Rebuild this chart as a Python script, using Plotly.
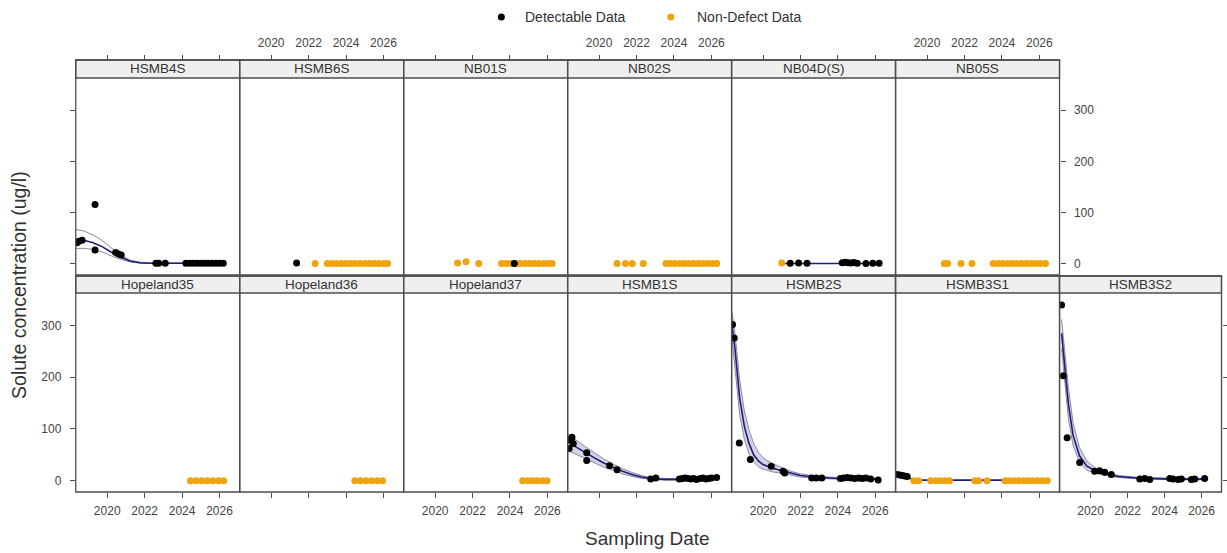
import plotly.graph_objects as go

W, H = 1227, 553

YEAR_TICKS = [2020, 2022, 2024, 2026]
CONC_TICKS = [0, 100, 200, 300]
X_RANGE = [2018.32, 2027.08]
Y_RANGE = [-22, 363]

# ---- Top row wells -------------------------------------------------------
hsmb4s_det_x = [2018.38, 2018.5, 2018.66, 2019.35, 2019.35, 2020.45, 2020.6, 2020.75,
                2022.6, 2022.75, 2023.1, 2024.2, 2024.4, 2024.6, 2024.8, 2025.0, 2025.2,
                2025.4, 2025.6, 2025.8, 2026.0, 2026.2]
hsmb4s_det_v = [41, 44, 46, 116, 27, 22, 19, 17, 1, 1, 1, 1, 1, 1, 1, 1, 1, 1, 1, 1, 1, 1]
hsmb4s_fit_x = [2018.32, 2018.75, 2019.25, 2019.75, 2020.25, 2020.75, 2021.25, 2021.75, 2022.25, 2026.2]
hsmb4s_fit_mid = [48, 46, 41, 33, 22, 12, 5, 2, 1, 1]
hsmb4s_fit_hi = [67, 64, 56, 45, 30, 16, 7, 3, 1.5, 1.5]
hsmb4s_fit_lo = [30, 30, 28, 23, 15, 8, 3.5, 1.2, 0.5, 0.5]

hsmb6s_det_x = [2021.36]
hsmb6s_det_v = [1.5]
hsmb6s_nd_x = [2022.35, 2023.0, 2023.25, 2023.5, 2023.75, 2024.0, 2024.25, 2024.5,
               2024.75, 2025.0, 2025.25, 2025.5, 2025.75, 2026.0, 2026.22]
hsmb6s_nd_v = [0.5] * 15

nb01s_det_x = [2024.23]
nb01s_det_v = [0.5]
nb01s_nd_x = [2021.2, 2021.65, 2022.33, 2023.55, 2023.8, 2024.05, 2024.3, 2024.55, 2024.8,
              2025.05, 2025.3, 2025.55, 2025.8, 2026.05, 2026.25]
nb01s_nd_v = [1.5, 4, 0.5, 0.5, 0.5, 0.5, 0.5, 0.5, 0.5, 0.5, 0.5, 0.5, 0.5, 0.5, 0.5]

nb02s_nd_x = [2020.96, 2021.41, 2021.77, 2022.36, 2023.57, 2023.8, 2024.05, 2024.3, 2024.55,
              2024.8, 2025.05, 2025.3, 2025.55, 2025.8, 2026.05, 2026.28]
nb02s_nd_v = [0.5] * 16

nb04ds_det_x = [2021.45, 2021.9, 2022.35, 2024.23, 2024.4, 2024.55, 2024.7, 2024.85,
                2025.03, 2025.5, 2025.86, 2026.2]
nb04ds_det_v = [1, 1.5, 1, 2, 3, 2, 1.5, 2.5, 1, 0.5, 1, 1]
nb04ds_nd_x = [2021.0]
nb04ds_nd_v = [1.5]
nb04ds_fit_x = [2021.0, 2026.2]
nb04ds_fit_mid = [0.5, 0.5]

nb05s_nd_x = [2020.92, 2021.1, 2021.82, 2022.4, 2023.54, 2023.8, 2024.05, 2024.3, 2024.55,
              2024.8, 2025.05, 2025.3, 2025.55, 2025.8, 2026.05, 2026.33]
nb05s_nd_v = [0.5] * 16

# ---- Bottom row wells ----------------------------------------------------
hopeland35_nd_x = [2024.45, 2024.75, 2025.05, 2025.35, 2025.65, 2025.95, 2026.22]
hopeland35_nd_v = [0] * 7

hopeland36_nd_x = [2024.47, 2024.77, 2025.07, 2025.37, 2025.67, 2025.95]
hopeland36_nd_v = [0] * 6

hopeland37_nd_x = [2024.68, 2024.94, 2025.2, 2025.46, 2025.72, 2025.98]
hopeland37_nd_v = [0] * 6

hsmb1s_det_x = [2018.4, 2018.44, 2018.55, 2018.62, 2019.34, 2019.34, 2020.56, 2020.96,
                2022.76, 2023.03, 2024.29, 2024.45, 2024.6, 2024.75, 2024.9, 2025.05,
                2025.2, 2025.4, 2025.55, 2025.7, 2025.85, 2026.0, 2026.28]
hsmb1s_det_v = [62, 79, 84, 72, 54, 39, 29, 21, 3, 5, 3, 4, 5, 4, 3, 4, 2, 4, 5, 3, 4, 5, 6]
hsmb1s_fit_x = [2018.35, 2018.75, 2019.25, 2019.75, 2020.25, 2020.75, 2021.25, 2021.75,
                2022.25, 2022.75, 2023.5, 2024.5, 2025.5, 2026.3]
hsmb1s_fit_mid = [74, 65, 54, 44, 34, 26, 18, 12, 7, 4, 2.5, 2.5, 3, 3.5]
hsmb1s_fit_hi = [90, 79, 66, 54, 42, 32, 23, 16, 10, 6, 4, 4, 4.5, 5]
hsmb1s_fit_lo = [58, 51, 42, 34, 26, 20, 13, 8, 4.5, 2.5, 1, 1, 1.5, 2]

hsmb2s_det_x = [2018.37, 2018.46, 2018.73, 2019.32, 2020.44, 2021.07, 2021.16, 2022.6,
                2022.85, 2023.14, 2024.13, 2024.3, 2024.5, 2024.7, 2024.9, 2025.1, 2025.3,
                2025.5, 2025.75, 2026.15]
hsmb2s_det_v = [302, 276, 73, 41, 28, 18, 15, 5, 5, 5, 4, 5, 6, 5, 4, 5, 4, 5, 3, 1]
hsmb2s_fit_x = [2018.35, 2018.5, 2018.75, 2019.0, 2019.25, 2019.5, 2019.75, 2020.0, 2020.5,
                2021.0, 2021.5, 2022.0, 2023.0, 2024.0, 2025.0, 2026.2]
hsmb2s_fit_mid = [300, 255, 160, 105, 72, 50, 38, 31, 24, 19, 14, 10, 6, 4, 3.5, 3]
hsmb2s_fit_hi = [325, 285, 195, 135, 98, 72, 55, 44, 33, 25, 18, 13, 8, 6, 5, 5]
hsmb2s_fit_lo = [272, 222, 128, 80, 52, 36, 27, 22, 17, 14, 10, 7, 4, 2.5, 2, 1.5]

hsmb3s1_det_x = [2018.4, 2018.55, 2018.67, 2018.8, 2018.94]
hsmb3s1_det_v = [12, 11, 10, 9, 8]
hsmb3s1_nd_x = [2019.3, 2019.55, 2020.2, 2020.45, 2020.7, 2020.95, 2021.2, 2022.55, 2022.75,
                2023.2, 2024.17, 2024.4, 2024.65, 2024.9, 2025.15, 2025.4, 2025.65, 2025.9,
                2026.15, 2026.42]
hsmb3s1_nd_v = [0] * 20
hsmb3s1_fit_x = [2018.4, 2018.8, 2019.2, 2019.6, 2026.42]
hsmb3s1_fit_mid = [12, 8, 3, 1, 1]

hsmb3s2_det_x = [2018.43, 2018.52, 2018.73, 2019.41, 2020.22, 2020.49, 2020.76, 2021.12,
                 2022.66, 2022.93, 2023.2, 2024.28, 2024.46, 2024.73, 2024.91, 2025.45,
                 2025.63, 2026.17]
hsmb3s2_det_v = [340, 203, 83, 35, 18, 19, 16, 12, 3, 4, 2, 4, 3, 2, 3, 2, 3, 4]
hsmb3s2_fit_x = [2018.43, 2018.6, 2018.8, 2019.05, 2019.4, 2019.8, 2020.3, 2020.8, 2021.5,
                 2022.5, 2023.5, 2024.5, 2025.5, 2026.2]
hsmb3s2_fit_mid = [285, 218, 148, 88, 48, 28, 18, 13, 8, 5, 3.5, 3, 3, 3]
hsmb3s2_fit_hi = [312, 250, 180, 112, 64, 38, 23, 16, 10, 6.5, 5, 4.5, 4.5, 4.5]
hsmb3s2_fit_lo = [255, 188, 120, 68, 36, 20, 14, 10, 6, 3.5, 2, 1.5, 1.5, 1.5]

PANELS = [
    dict(name="HSMB4S", row=0, col=0, det=(hsmb4s_det_x, hsmb4s_det_v),
         fit=(hsmb4s_fit_x, hsmb4s_fit_mid, hsmb4s_fit_lo, hsmb4s_fit_hi), fill=False),
    dict(name="HSMB6S", row=0, col=1, det=(hsmb6s_det_x, hsmb6s_det_v),
         nd=(hsmb6s_nd_x, hsmb6s_nd_v)),
    dict(name="NB01S", row=0, col=2, det=(nb01s_det_x, nb01s_det_v),
         nd=(nb01s_nd_x, nb01s_nd_v)),
    dict(name="NB02S", row=0, col=3, nd=(nb02s_nd_x, nb02s_nd_v)),
    dict(name="NB04D(S)", row=0, col=4, det=(nb04ds_det_x, nb04ds_det_v),
         nd=(nb04ds_nd_x, nb04ds_nd_v), fit=(nb04ds_fit_x, nb04ds_fit_mid, None, None)),
    dict(name="NB05S", row=0, col=5, nd=(nb05s_nd_x, nb05s_nd_v)),
    dict(name="Hopeland35", row=1, col=0, nd=(hopeland35_nd_x, hopeland35_nd_v)),
    dict(name="Hopeland36", row=1, col=1, nd=(hopeland36_nd_x, hopeland36_nd_v)),
    dict(name="Hopeland37", row=1, col=2, nd=(hopeland37_nd_x, hopeland37_nd_v)),
    dict(name="HSMB1S", row=1, col=3, det=(hsmb1s_det_x, hsmb1s_det_v),
         fit=(hsmb1s_fit_x, hsmb1s_fit_mid, hsmb1s_fit_lo, hsmb1s_fit_hi), fill=True),
    dict(name="HSMB2S", row=1, col=4, det=(hsmb2s_det_x, hsmb2s_det_v),
         fit=(hsmb2s_fit_x, hsmb2s_fit_mid, hsmb2s_fit_lo, hsmb2s_fit_hi), fill=True),
    dict(name="HSMB3S1", row=1, col=5, det=(hsmb3s1_det_x, hsmb3s1_det_v),
         nd=(hsmb3s1_nd_x, hsmb3s1_nd_v), fit=(hsmb3s1_fit_x, hsmb3s1_fit_mid, None, None)),
    dict(name="HSMB3S2", row=1, col=6, det=(hsmb3s2_det_x, hsmb3s2_det_v),
         fit=(hsmb3s2_fit_x, hsmb3s2_fit_mid, hsmb3s2_fit_lo, hsmb3s2_fit_hi), fill=True),
]

DETECT_COLOR = "#000000"
NONDETECT_COLOR = "#F0A30A"
FIT_COLOR = "#1E1E78"
BAND_COLOR = "#8A8AA6"
BAND_FILL = "rgba(130,130,180,0.35)"
FRAME = "#4d4d4d"
TEXT = "#333333"
TICK_TEXT = "#444444"
FONT = "Liberation Sans, Arial, sans-serif"

# panel geometry in pixels
COL_LEFT0, COL_W = 76, 164.5
ROWS = {0: dict(strip_top=60, plot_top=78, plot_bot=275),
        1: dict(strip_top=276, plot_top=293, plot_bot=492)}


def fx(px):
    return px / W


def fy(py):
    return 1 - py / H


fig = go.Figure()
layout = dict(
    width=W, height=H, margin=dict(l=0, r=0, t=0, b=0),
    paper_bgcolor="white", plot_bgcolor="white", showlegend=False,
    font=dict(family=FONT, color=TEXT),
)
shapes, annotations = [], []

for k, p in enumerate(PANELS):
    n = k + 1
    xa = "x" if n == 1 else f"x{n}"
    ya = "y" if n == 1 else f"y{n}"
    xkey = "xaxis" if n == 1 else f"xaxis{n}"
    ykey = "yaxis" if n == 1 else f"yaxis{n}"
    r, c = p["row"], p["col"]
    g = ROWS[r]
    left = COL_LEFT0 + c * COL_W
    right = min(left + COL_W, W - 1.5)

    top_row = r == 0
    x_labels = (c % 2 == 1) if top_row else (c % 2 == 0)
    xdict = dict(
        domain=[fx(left), fx(right)], range=X_RANGE,
        tickvals=YEAR_TICKS, ticktext=[str(t) for t in YEAR_TICKS],
        ticks="outside", ticklen=5, tickwidth=1, tickcolor=FRAME,
        showticklabels=x_labels,
        tickfont=dict(size=12, color=TICK_TEXT), ticklabelstandoff=3,
        showline=False, showgrid=False, zeroline=False,
    )
    if top_row:
        # ticks sit above the strip header
        xdict.update(anchor="free", position=fy(g["strip_top"]), side="top")
    else:
        xdict.update(anchor=ya, side="bottom")
    layout[xkey] = xdict

    ydict = dict(
        domain=[fy(g["plot_bot"]), fy(g["plot_top"])], anchor=xa, range=Y_RANGE,
        tickvals=CONC_TICKS, ticktext=[str(t) for t in CONC_TICKS],
        showline=False, showgrid=False, zeroline=False,
        tickfont=dict(size=12, color=TICK_TEXT),
        ticklen=5, tickwidth=1, tickcolor=FRAME, ticklabelstandoff=6,
    )
    if r == 1 and c == 0:
        ydict.update(ticks="outside", side="left", showticklabels=True)
    elif r == 0 and c == 0:
        ydict.update(ticks="outside", side="left", showticklabels=False)
    elif r == 0 and c == 5:
        ydict.update(ticks="outside", side="right", showticklabels=True)
    elif r == 1 and c == 6:
        ydict.update(ticks="outside", side="right", showticklabels=False)
    else:
        ydict.update(ticks="", showticklabels=False)
    layout[ykey] = ydict

    # panel frame and strip header
    shapes.append(dict(type="rect", xref="paper", yref="paper",
                       x0=fx(left), x1=fx(right), y0=fy(g["plot_top"]), y1=fy(g["strip_top"]),
                       fillcolor="#efefef", line=dict(color=FRAME, width=1.3), layer="above"))
    shapes.append(dict(type="rect", xref="paper", yref="paper",
                       x0=fx(left), x1=fx(right), y0=fy(g["plot_bot"]), y1=fy(g["strip_top"]),
                       fillcolor="rgba(0,0,0,0)", line=dict(color=FRAME, width=1.3), layer="above"))
    annotations.append(dict(xref="paper", yref="paper", x=fx((left + right) / 2),
                            y=fy((g["strip_top"] + g["plot_top"]) / 2), text=p["name"],
                            showarrow=False, xanchor="center", yanchor="middle",
                            font=dict(size=13.5, color=TEXT)))

    if "fit" in p:
        fxs, mid, lo, hi = p["fit"]
        if lo is not None:
            fig.add_trace(go.Scatter(x=fxs, y=lo, mode="lines", xaxis=xa, yaxis=ya,
                                     line=dict(color=BAND_COLOR, width=1), hoverinfo="skip"))
            fig.add_trace(go.Scatter(x=fxs, y=hi, mode="lines", xaxis=xa, yaxis=ya,
                                     line=dict(color=BAND_COLOR, width=1),
                                     fill="tonexty" if p.get("fill") else None,
                                     fillcolor=BAND_FILL, hoverinfo="skip"))
        fig.add_trace(go.Scatter(x=fxs, y=mid, mode="lines", xaxis=xa, yaxis=ya,
                                 line=dict(color=FIT_COLOR, width=1.6), hoverinfo="skip"))
    if "nd" in p:
        fig.add_trace(go.Scatter(x=p["nd"][0], y=p["nd"][1], mode="markers", xaxis=xa, yaxis=ya,
                                 marker=dict(color=NONDETECT_COLOR, size=7), name="Non-Detect Data"))
    if "det" in p:
        fig.add_trace(go.Scatter(x=p["det"][0], y=p["det"][1], mode="markers", xaxis=xa, yaxis=ya,
                                 marker=dict(color=DETECT_COLOR, size=7), name="Detectable Data"))

# key at the top
for cx, col, label, tx in [(503, DETECT_COLOR, "Detectable Data", 525),
                           (673, NONDETECT_COLOR, "Non-Defect Data", 697)]:
    shapes.append(dict(type="circle", xref="paper", yref="paper",
                       x0=fx(cx - 3.5), x1=fx(cx + 3.5), y0=fy(17 + 3.5), y1=fy(17 - 3.5),
                       fillcolor=col, line=dict(color=col, width=0)))
    annotations.append(dict(xref="paper", yref="paper", x=fx(tx), y=fy(17), text=label,
                            showarrow=False, xanchor="left", yanchor="middle",
                            font=dict(size=14, color=TEXT)))

annotations.append(dict(xref="paper", yref="paper", x=fx(650), y=fy(538), text="Sampling Date",
                        showarrow=False, xanchor="center", yanchor="middle",
                        font=dict(size=19, color=TEXT)))
annotations.append(dict(xref="paper", yref="paper", x=fx(19), y=fy(285),
                        text="Solute concentration (ug/l)", textangle=-90,
                        showarrow=False, xanchor="center", yanchor="middle",
                        font=dict(size=19.5, color=TEXT)))

layout["shapes"] = shapes
layout["annotations"] = annotations
fig.update_layout(**layout)
fig.write_html("out.html")
